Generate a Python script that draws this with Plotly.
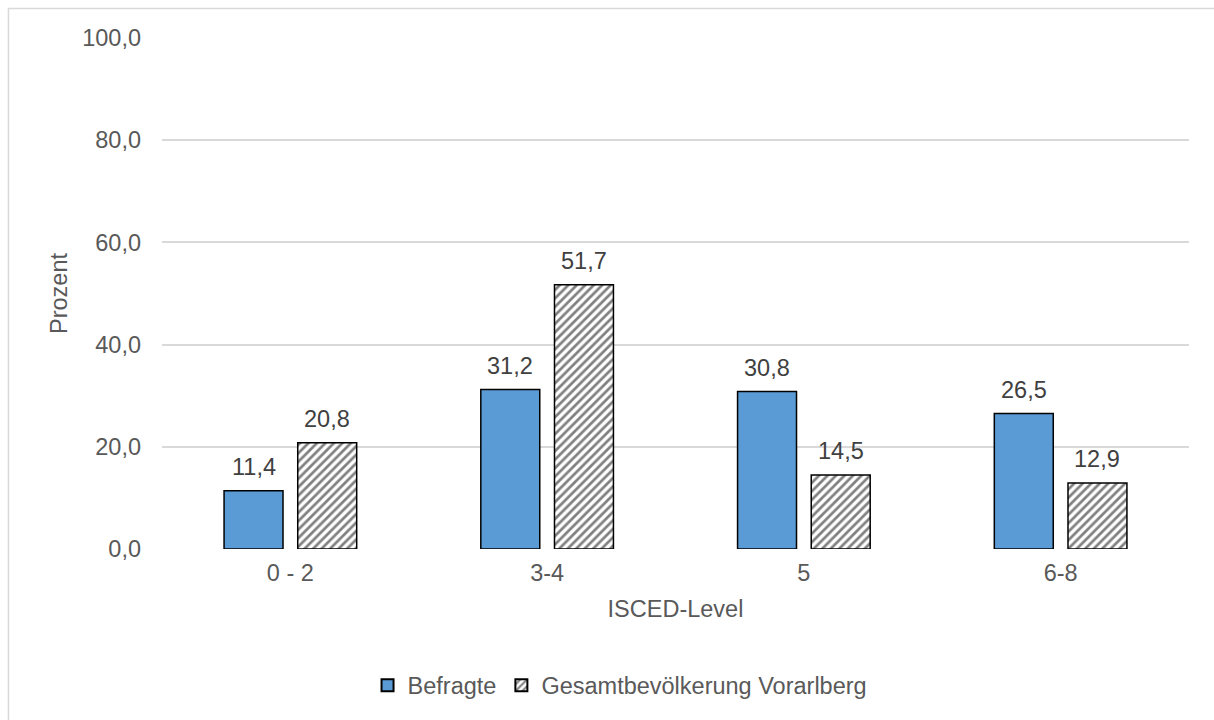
import plotly.graph_objects as go

# ISCED education levels and percentage shares
categories = ["0 - 2", "3-4", "5", "6-8"]
befragte = [11.4, 31.2, 30.8, 26.5]
gesamt = [20.8, 51.7, 14.5, 12.9]
y_ticks = [0, 20, 40, 60, 80, 100]

series_names = ["Befragte", "Gesamtbevölkerung Vorarlberg"]

FONT = "Liberation Sans, Arial, sans-serif"
TEXT_GREY = "#595959"
LABEL_GREY = "#404040"
FS = 23.5

fig = go.Figure()
fig.add_trace(go.Bar(
    x=categories, y=befragte, name=series_names[0],
    marker=dict(color="#5B9BD5", line=dict(color="black", width=1.5)),
))
fig.add_trace(go.Bar(
    x=categories, y=gesamt, name=series_names[1],
    marker=dict(
        color="white",
        line=dict(color="black", width=1.5),
        pattern=dict(shape="/", fgcolor="#808080", bgcolor="white",
                     size=6, solidity=0.45, fillmode="replace"),
    ),
))

def fmt(v):
    return f"{v:.1f}".replace(".", ",")

# value labels above each bar (x given as category index)
for vals, shift in ((befragte, -36.8), (gesamt, 36.8)):
    for i, v in enumerate(vals):
        fig.add_annotation(
            x=i, y=v, xref="x", yref="y", text=fmt(v), showarrow=False,
            xshift=shift, yshift=9, yanchor="bottom",
            font=dict(family=FONT, size=FS, color=LABEL_GREY),
        )

# light frame around the chart area
fig.add_shape(type="rect", xref="paper", yref="paper",
              x0=-0.1495, x1=1.2, y0=-0.5, y1=1.0575,
              line=dict(color="#d9d9d9", width=1.5), fillcolor="rgba(0,0,0,0)",
              layer="below")

fig.update_layout(
    width=1214, height=720,
    margin=dict(l=162, r=25, t=38, b=168),
    paper_bgcolor="white", plot_bgcolor="white",
    separators=", ",
    barmode="group", bargap=0.426, bargroupgap=0.2,
    font=dict(family=FONT, size=FS, color=TEXT_GREY),
    showlegend=True,
    legend=dict(orientation="h", x=0.446, xanchor="center", y=-0.267, yanchor="middle",
                font=dict(family=FONT, size=FS, color=TEXT_GREY),
                itemsizing="constant", traceorder="normal"),
)
fig.update_yaxes(
    range=[0, 100], tickvals=y_ticks, tickformat=".1f",
    showgrid=True, gridcolor="#d9d9d9", gridwidth=1.5,
    zeroline=False, showline=False, ticklabelstandoff=20,
    tickfont=dict(family=FONT, size=FS, color=TEXT_GREY),
    title=dict(text="Prozent", standoff=7,
               font=dict(family=FONT, size=FS, color=TEXT_GREY)),
)
fig.update_xaxes(
    type="category", range=[-0.5, 3.5],
    showgrid=False, showline=False, zeroline=False, ticklabelstandoff=7,
    tickfont=dict(family=FONT, size=FS, color=TEXT_GREY),
    title=dict(text="ISCED-Level", standoff=16,
               font=dict(family=FONT, size=FS, color=TEXT_GREY)),
)

fig.write_html("out.html")
